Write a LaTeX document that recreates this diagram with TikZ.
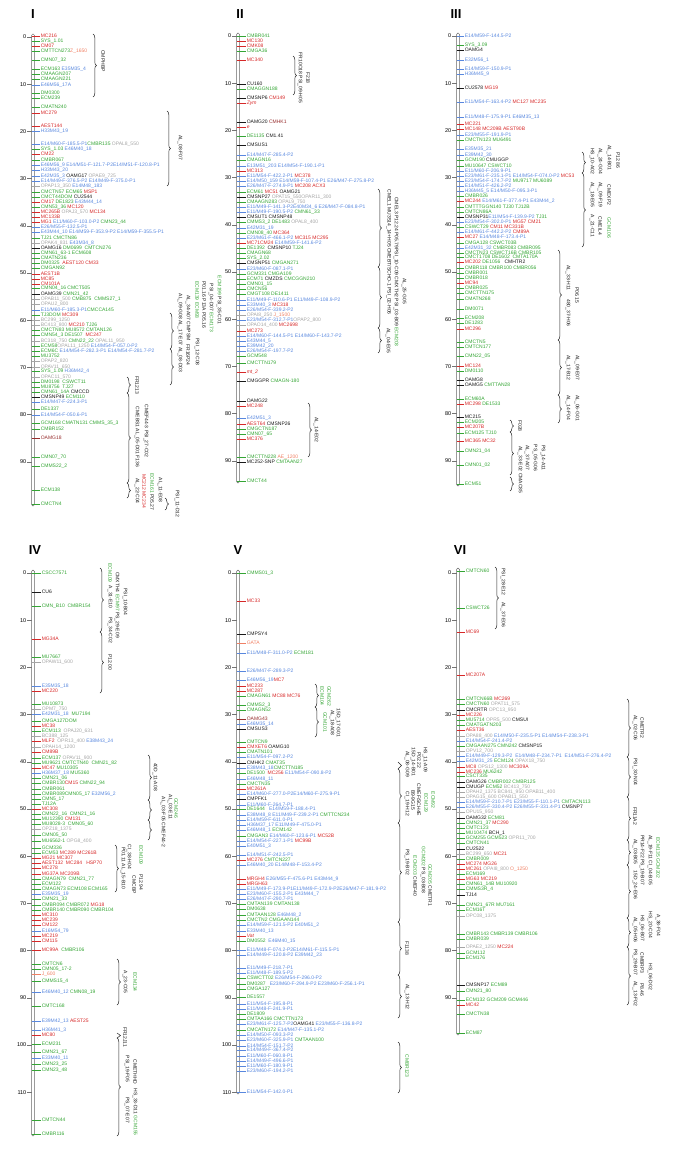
\documentclass[tikz,border=0pt]{standalone}
\usepackage{fontspec}
\setmainfont{Liberation Sans}
\usetikzlibrary{decorations.pathreplacing}
\definecolor{mR}{RGB}{214,40,40}
\definecolor{mG}{RGB}{52,165,52}
\definecolor{mB}{RGB}{88,135,222}
\definecolor{mK}{RGB}{25,25,25}
\definecolor{mY}{RGB}{165,165,165}
\definecolor{mO}{RGB}{240,128,100}
\definecolor{mM}{RGB}{150,45,45}
\newcommand\mR[1]{\textcolor{mR}{#1}}
\newcommand\mG[1]{\textcolor{mG}{#1}}
\newcommand\mB[1]{\textcolor{mB}{#1}}
\newcommand\mK[1]{\textcolor{mK}{#1}}
\newcommand\mY[1]{\textcolor{mY}{#1}}
\newcommand\mO[1]{\textcolor{mO}{#1}}
\newcommand\mM[1]{\textcolor{mM}{#1}}
\begin{document}
\catcode`\_=12
\begin{tikzpicture}[x=1pt, y=-1pt,
  mk/.style={anchor=west, inner sep=0.6pt, font=\fontsize{5}{6}\selectfont},
  num/.style={anchor=east, inner sep=0.5pt, font=\fontsize{5.5}{6}\selectfont},
  ttl/.style={inner sep=0pt, font=\fontsize{13}{13}\selectfont\bfseries},
  ql/.style={rotate=-90, inner sep=0pt, font=\fontsize{5}{6}\selectfont},
  mt/.style={line width=0.4pt},
  rt/.style={draw=black!55, line width=0.4pt},
  bar/.style={draw=black!60, line width=0.5pt, rounded corners=1.4pt},
  br/.style={decorate, decoration={brace, amplitude=3.5pt}, draw=black!85, line width=0.5pt}
]
\useasboundingbox (0,0) rectangle (685,1155);

% ---------------- I ----------------
\node[ttl] (I) at (33,14) {I};
\coordinate (Ib) at (31.5,0);
\draw[bar] (31.5,34) rectangle (34.5,506);
\foreach \v in {0,10,...,90} {
  \node[num] (I-n\v) at (27,37+4.72*\v) {\v};
  \draw[rt] (I-n\v.east) -- (I-n\v.east -| Ib);
}
\foreach \y/\c/\t in {
  36/mR/\mR{MC216}, 41/mG/\mG{SYS_1.01}, 46/mR/\mR{CM07},
  51/mG/\mG{CMTTCN273}\mO{Z_1650}, 60/mG/\mG{CMN07_32},
  69/mG/\mG{ECM163} \mB{E35M35_4}, 74/mG/\mG{CMAAGN207}, 79/mG/\mG{CMAAGN221},
  85/mB/\mB{E46M56_17A}, 93/mG/\mG{DM0300}, 98/mG/\mG{ECM239},
  107/mG/\mG{CMATN240}, 113/mR/\mR{MC279}, 126/mR/\mR{AEST144}, 131/mB/\mB{H33M43_19},
  144/mB/\mB{E14/M60-F-185.5-P1}\mG{CMBR135} \mY{OPAL8_550},
  149/mG/\mG{SYS_1.03} \mB{E46M40_18}, 154/mR/\mR{CM22}, 160/mG/\mG{CMBR067},
  165/mB/\mB{E46M56_9 E14/M51-F-121.7-P2E14/M51-F-120.8-P1},
  170/mB/\mB{H33M43_20}, 176/mB/\mB{E42M35_3} \mK{OAMG17} \mY{OPAE9_725},
  181/mB/\mB{E14/M49-F-376.5-P2 E14/M49-F-375.0-P1},
  186/mY/\mY{OPAP13_350} \mB{E14M48_183}, 192/mG/\mG{CMCTN57 ECM65} \mR{MSP1},
  197/mG/\mG{CMCT44DOM} \mK{CU2544}, 202/mR/\mR{CM17} \mG{DE1823} \mB{E43M44_14},
  207/mG/\mG{CMN53_36} \mR{MC120}, 212/mR/\mR{MC265B} \mY{OPAJ3_570} \mR{MC134},
  217/mR/\mR{MC133B}, 222/mR/\mR{MG1} \mB{E11/M60-F-103.0-P2} \mG{CMN23_44},
  227/mB/\mB{E26/M55-F-132.5-P1},
  232/mB/\mB{E43M44_10 E14/M59-F-353.9-P2 E14/M59-F-355.5-P1},
  238/mG/\mG{TJ21 CMCTN86}, 243/mY/\mY{OPAK4_831} \mB{E43M34_8},
  248/mK/\mK{OAMG16} \mG{DM0699\ \ CMTCN276}, 253/mG/\mG{CMN61_63-1 ECM608},
  258/mG/\mG{CMATN236}, 263/mG/\mG{DM0325}\ \ \mR{AEST120 CM33}, 268/mG/\mG{CMGAN92},
  274/mR/\mR{AEST1B}, 279/mR/\mR{MC85}, 284/mR/\mR{CM101A},
  288/mG/\mG{CMN04_16 CMCT505}, 294/mK/\mK{OAMG39} \mG{CMN21_42},
  299/mY/\mY{OPAB11_500} \mG{CMB875\ \ CMMS27_1}, 304/mY/\mY{OPAU2_800},
  310/mB/\mB{E11/M60-F-185.3-P1}\mG{CMCCA145}, 315/mG/\mG{TJ3DOM} \mR{MC309},
  320/mY/\mY{BC299_1250}, 325/mY/\mY{BC413_800} \mR{MC210} \mG{TJ26},
  330/mG/\mG{CMCTN83 MU8572 CMTAN126}, 335/mG/\mG{CMN54_3 DE1507}\ \ \mR{MC247},
  341/mY/\mY{BC318_750} \mG{CMN22_22} \mY{OPAL11_950},
  346/mG/\mG{ECM58}\mY{OPAL11_1250} \mB{E14/M54-F-057.0-P2},
  351/mG/\mG{ECM6C} \mB{E14/M54-F-282.3-P1 E14/M54-F-281.7-P2},
  356/mG/\mG{MU3752}, 361/mY/\mY{OPAP2_820}, 367/mY/\mY{OPAV11_650},
  371/mG/\mG{SYS_1.09} \mB{H36M42_4}, 377/mY/\mY{OPAC11_570},
  382/mG/\mG{DM0198\ \ CSWCT11}, 387/mG/\mG{MU8756\ \ TJ27},
  392/mG/\mG{CMN61_14A} \mK{CMCCD}, 397/mK/\mK{CMSNP49} \mG{ECM110},
  402/mB/\mB{E14/M47-F-224.3-P1}, 409/mG/\mG{DE1337}, 415/mB/\mB{E14/M54-F-050.6-P1},
  423/mG/\mG{GCM168 CMATN131 CMMS_35_3}, 429/mG/\mG{CMBR152}, 438/mM/\mM{OAMG18},
  457/mG/\mG{CMN07_70}, 466/mG/\mG{CMMS22_2}, 490/mG/\mG{ECM138}, 504/mG/\mG{CMCTN4}
}{
  \node[mk] (I-\y) at (40,\y) {\t};
  \draw[mt, draw=\c] (I-\y.west) -- (I-\y.west -| Ib);
}
\foreach \x/\a/\b in {93/34/97, 167/111/186, 170/313/349, 170/349/385,
  127/377/393, 127/393/483, 127/483/498, 165/498/510}
  \draw[br] (\x,\a) -- (\x,\b);
\foreach \x/\y/\t [count=\i] in {
  103/61/\mK{CMPHBP}, 180/148/\mK{AL_08-F07},
  180/333/\mK{AL_09-G08 AL_17-E07 AL_08-D03}, 188/318/\mK{AL_34-A07 CMPSM},
  188/355/\mK{FR16P24}, 197/300/\mG{ECM139 ECM93}, 197/352/\mK{PSI_12-C08},
  204/305/\mK{P01.16 P13A P05.16}, 211/308/\mK{PSI_04-D07} \mG{ECM173},
  219/300/\mG{ECM199} \mK{PSI_35-C01},
  137/385/\mK{FR1213}, 137/437/\mK{CMEBS1 AL_05-D01 F136},
  146/431/\mK{CMEF44-3 PSI_27-C02}, 137/491/\mK{AL_22-C04},
  144/491/\mR{MC212 MC234}, 152/492/\mG{ECM161} \mK{P05.27},
  160/490/\mK{AL_11-E08}, 177/504/\mK{PSI_11-D12}
}
  \node[ql] (I-q\i) at (\x,\y) {\t};

% ---------------- II ----------------
\node[ttl] (II) at (240,14) {II};
\coordinate (IIb) at (236.5,0);
\draw[bar] (236.5,33) rectangle (239.5,483);
\foreach \v in {0,10,...,90} {
  \node[num] (II-n\v) at (232,36+4.72*\v) {\v};
  \draw[rt] (II-n\v.east) -- (II-n\v.east -| IIb);
}
\foreach \y/\c/\t in {
  36/mG/\mG{CMBR041}, 41/mR/\mR{MC130}, 46/mR/\mR{CMK08}, 51/mG/\mG{CMGA36},
  60/mR/\mR{MC340}, 84/mK/\mK{CU160}, 89/mG/\mG{CMAGGN188},
  98/mK/\mK{CMSNP6} \mR{CM149}, 103/mR/\mR{\itshape Zym},
  122/mK/\mK{OAMG20} \mM{CMHK1}, 127/mR/\mR{\itshape e},
  136/mG/\mG{DE1135} \mK{CM1.41}, 145/mK/\mK{CMSUS1},
  155/mB/\mB{E14/M47-F-285.4-P2}, 160/mG/\mG{CMAGN16},
  166/mB/\mB{E13M51_203 E14/M54-F-190.1-P1}, 171/mR/\mR{MC313},
  176/mB/\mB{E11/M54-F-422.2-P1} \mR{MC378},
  181/mB/\mB{E14/M50_159 E14/M59-F-107.4-P1 E26/M47-F-275.8-P2},
  186/mB/\mB{E26/M47-F-274.9-P1} \mR{MC208 ACX3},
  192/mG/\mG{ECM61} \mR{MC51} \mK{OAMG21},
  197/mK/\mK{CMSNP27} \mY{OPAT15_550OPAR11_300},
  202/mG/\mG{CMAAGN283} \mY{OPAL9_750},
  207/mB/\mB{E11/M49-F-141.3-P2E40M34_6 E26/M47-F-084.8-P1},
  212/mB/\mB{E11/M49-F-190.5-P2} \mG{CMN61_33}, 217/mK/\mK{CMSUT1 CMSNP48},
  222/mG/\mG{CMMS3_2 DE1483} \mY{OPAL8_400}, 228/mB/\mB{E42M31_19},
  233/mG/\mG{CMN08_40} \mR{MC364},
  238/mB/\mB{E23/M61-F-466.1-P2} \mR{MC315 MC295},
  243/mR/\mR{MC71CM24} \mB{E14/M59-F-141.6-P2},
  248/mG/\mG{DE1392}\ \ \mK{CMSNP10} \mG{TJ24}, 253/mG/\mG{CMAGN68},
  258/mG/\mG{SYS_2.02}, 263/mK/\mK{CMSNP51} \mG{CMGAN271},
  269/mB/\mB{E23/M60-F-087.1-P1}, 274/mG/\mG{GCM331 CMGA109},
  279/mG/\mG{ECM71} \mK{CMZDS} \mG{CMCGGN210}, 284/mG/\mG{CMN01_15},
  289/mG/\mG{CMCN56}, 294/mG/\mG{CMGT108 DE1411},
  300/mB/\mB{E11/M49-F-110.6-P1 E11/M49-F-108.9-P2},
  305/mB/\mB{E33M40_3} \mR{MC318}, 310/mB/\mB{E26/M54-F-339.2-P2},
  315/mY/\mY{OPAI8_250} \mO{J_1500},
  320/mB/\mB{E23/M54-F-312.7-P1}\mY{OPAP2_800},
  325/mY/\mY{OPAO14_400} \mR{MC2698}, 331/mR/\mR{MC273},
  336/mB/\mB{E14/M60-F-144.5-P1 E14/M60-F-143.7-P2},
  341/mB/\mB{E43M44_5}, 346/mB/\mB{E39M42_20}, 351/mB/\mB{E26/M54-F-197.7-P2},
  356/mG/\mG{GCM548}, 363/mG/\mG{CMCTTN179}, 372/mR/\mR{\itshape mt_2},
  381/mK/\mK{CMGGPR} \mG{CMAGN-180}, 401/mK/\mK{OAMG22}, 406/mR/\mR{MC248},
  418/mB/\mB{E42M51_3}, 424/mR/\mR{AEST64} \mK{CMSNP26},
  429/mG/\mG{CMGCTN187}, 434/mG/\mG{CMN07_65}, 439/mR/\mR{MC376},
  457/mG/\mG{CMCTTN228} \mO{AE_1200}, 462/mK/\mK{MC252-SNP} \mG{CMTAAN27},
  481/mG/\mG{CMCT44}
}{
  \node[mk] (II-\y) at (246,\y) {\t};
  \draw[mt, draw=\c] (II-\y.west) -- (II-\y.west -| IIb);
}
\foreach \x/\a/\b in {293/56/95, 378/189/267, 378/267/328, 378/328/353, 308/403/457}
  \draw[br] (\x,\a) -- (\x,\b);
\foreach \x/\y/\t [count=\i] in {
  300/78/\mK{FR10O18 PSI_09-H05}, 308/78/\mK{F218},
  389/252/\mK{CMEL1 MU3514_14+H05 CMEBT/SCHO-1 PSI_02-H06},
  396/272/\mK{CMEL3 P12.24 P05.79PSI_10-C09 CMXTH2 PSI_03-B09} \mG{ECM203},
  404/291/\mK{AL_25-G05}, 388/341/\mK{AL_04-E05}, 316/430/\mK{AL_14-E02}
}
  \node[ql] (II-q\i) at (\x,\y) {\t};

% ---------------- III ----------------
\node[ttl] (III) at (456,14) {III};
\coordinate (IIIb) at (456.5,0);
\draw[bar] (456.5,33) rectangle (459.5,486);
\foreach \v in {0,10,...,90} {
  \node[num] (III-n\v) at (452,36+4.72*\v) {\v};
  \draw[rt] (III-n\v.east) -- (III-n\v.east -| IIIb);
}
\foreach \y/\c/\t in {
  36/mB/\mB{E14/M59-F-144.5-P2}, 45/mG/\mG{SYS_3.09}, 50/mK/\mK{OAMG4},
  60/mB/\mB{E32M56_1}, 69/mB/\mB{E14/M59-F-150.9-P1}, 74/mB/\mB{H36M45_9},
  88/mK/\mK{CU2578} \mR{MG19}, 102/mB/\mB{E11/M54-F-163.4-P2} \mR{MC127 MC235},
  117/mB/\mB{E11/M48-F-175.9-P1 E46M35_13}, 124/mR/\mR{MC221},
  129/mR/\mR{MC148 MC209B AEST90B}, 135/mB/\mB{E23/M55-F-191.9-P1},
  140/mG/\mG{CMCTN123 MU6491}, 149/mB/\mB{E35M35_21}, 155/mB/\mB{E39M42_30},
  160/mG/\mG{GCM190} \mK{CMUGGP}, 166/mG/\mG{MU10647 CSWCT10},
  171/mB/\mB{E11/M60-F-206.9-P1},
  176/mB/\mB{E23/M61-F-235.1-P1 E14/M54-F-074.0-P2} \mR{MC53},
  181/mB/\mB{E23/M54-F-174.7-P2} \mG{MU9717 MU6089},
  186/mB/\mB{E14/M51-F-426.2-P2}, 191/mB/\mB{H36M45_5 E14/M50-F-095.3-P1},
  196/mG/\mG{CMBR026}, 201/mR/\mR{MC244} \mB{E14/M61-F-377.4-P1 E43M44_2},
  207/mG/\mG{CMTTTGGN140 TJ30 TJ12B}, 212/mG/\mG{CMTCN86A},
  217/mK/\mK{CMSNP31}\mB{E11/M54-F-139.9-P2} \mG{TJ31},
  222/mB/\mB{E23/M54-F-302.0-P1} \mR{MG57 CM21},
  227/mG/\mG{CSWCT29} \mR{CM11 MC331B}, 232/mB/\mB{E14/M61-F-442.2-P2} \mR{CM89A},
  237/mR/\mR{MC27} \mB{E14/M48-F-173.4-P1}, 243/mG/\mG{CMGA128 CSWCT03B},
  248/mB/\mB{E42M31_32} \mG{CMBR083 CMBR095},
  253/mG/\mG{CMCTN23 CSWCT16B CMBR105},
  257/mG/\mG{CMCT1708 DE1602\ \ CMTA170A},
  262/mR/\mR{MC202} \mG{DE1056}\ \ \ \mK{CMHTR2},
  268/mG/\mG{CMBR118 CMBR100 CMBR056}, 273/mG/\mG{CMBR001},
  278/mG/\mG{CMBR018}, 283/mR/\mR{MC94}, 288/mG/\mG{CMBR025},
  293/mG/\mG{CMCTTN175}, 299/mG/\mG{CMATN268}, 309/mG/\mG{DM0071},
  318/mG/\mG{ECM208}, 323/mG/\mG{DE1283}, 329/mR/\mR{MC296},
  342/mG/\mG{CMCTN5}, 347/mG/\mG{CMTCN177}, 356/mG/\mG{CMN22_05},
  366/mR/\mR{MC124}, 371/mG/\mG{DM0110}, 380/mK/\mK{OAMG8},
  385/mK/\mK{OAMG5} \mG{CMTTAN28}, 399/mG/\mG{ECM60A},
  404/mR/\mR{MC298} \mG{DE1533}, 417/mK/\mK{MC215}, 422/mG/\mG{ECM205},
  427/mR/\mR{MC207B}, 433/mG/\mG{ECM125 TJ10}, 441/mR/\mR{MC365 MC32},
  451/mG/\mG{CMN21_04}, 465/mG/\mG{CMN01_02}, 484/mG/\mG{ECM51}
}{
  \node[mk] (III-\y) at (464,\y) {\t};
  \draw[mt, draw=\c] (III-\y.west) -- (III-\y.west -| IIIb);
}
\foreach \x/\a/\b in {582/152/173, 582/173/247, 558/250/340, 558/340/395,
  558/395/423, 510/420/432, 510/432/475, 510/477/491}
  \draw[br] (\x,\a) -- (\x,\b);
\foreach \x/\y/\t [count=\i] in {
  592/161/\mK{HS_10-A02}, 592/195/\mK{AL_18-E05}, 592/226/\mK{A_21-C11},
  600/161/\mK{AL_24-G04}, 600/195/\mK{AL_09-F19}, 600/226/\mK{CMEIL4},
  609/158/\mK{AL_14-B01}, 609/195/\mK{CMEXP2}, 609/228/\mG{GCM106},
  618/160/\mK{P12.86},
  568/278/\mK{AL_33-H11}, 568/313/\mK{480_37-H06}, 577/295/\mK{P06.15},
  568/368/\mK{AL_17-B12}, 577/368/\mK{AL_09-E07},
  568/408/\mK{AL_14-F04}, 577/408/\mK{AL_06-G01},
  520/426/\mK{F028}, 520/470/\mK{AL_33-E02 CMAC85},
  527/458/\mK{AL_37-A07}, 535/458/\mK{PS_05-G06}, 543/458/\mK{PS_14-A11}
}
  \node[ql] (III-q\i) at (\x,\y) {\t};

% ---------------- IV ----------------
\node[ttl] (IV) at (35,550) {IV};
\coordinate (IVb) at (31.5,0);
\draw[bar] (31.5,570) rectangle (34.5,1136);
\foreach \v in {0,10,...,110} {
  \node[num] (IV-n\v) at (27,573+4.72*\v) {\v};
  \draw[rt] (IV-n\v.east) -- (IV-n\v.east -| IVb);
}
\foreach \y/\c/\t in {
  573/mG/\mG{CSCC7571}, 592/mK/\mK{CU6}, 606/mG/\mG{CMN_B10\ \ CMBR154},
  639/mR/\mR{MG34A}, 657/mG/\mG{MU7667}, 662/mY/\mY{OPAW11_600},
  686/mB/\mB{E35M35_18}, 691/mR/\mR{MC220}, 704/mG/\mG{MU10873},
  709/mY/\mY{OPM7_750}, 714/mB/\mB{E42M31_18}\ \ \mG{MU7194},
  721/mG/\mG{CMGA127DOM}, 726/mR/\mR{MC38}, 731/mG/\mG{ECM113}\ \ \mY{OPAJ20_631},
  736/mY/\mY{BC388_125}, 741/mR/\mR{MLF2}\ \ \mY{OPR13_400} \mB{E38M43_24},
  747/mY/\mY{OPAH14_1200}, 752/mR/\mR{CM89B}, 758/mG/\mG{ECM137} \mY{OPAV11_900},
  763/mG/\mG{MU9621 CMTCTN40\ \ CMN21_82}, 768/mR/\mR{MC47} \mG{MU10305},
  773/mB/\mB{H36M37_18} \mG{MU5360}, 778/mG/\mG{CMN21_06},
  783/mG/\mG{CMBR130}\mR{CM15} \mG{CMN22_94}, 789/mG/\mG{CMBR061},
  794/mG/\mG{CMBR089CMN05_17} \mB{E32M56_2}, 799/mG/\mG{CMN5_17},
  804/mG/\mG{TJ12A}, 809/mR/\mR{MC308}, 814/mG/\mG{CMN22_16\ \ CMN21_16},
  819/mG/\mG{MU12390} \mR{CM131}, 824/mG/\mG{MU8028-3\ \ CMN05_60},
  829/mY/\mY{OPZ18_1375}, 835/mG/\mG{CMN05_50}, 841/mG/\mG{MU6562-1} \mY{OPG8_400},
  848/mG/\mG{GCM336}, 853/mG/\mG{ECM53} \mR{MC289 MC261B},
  858/mR/\mR{MG21 MC307}, 863/mR/\mR{AEST132\ \ MC284\ \ \ HSP70},
  868/mR/\mR{MC278}, 874/mR/\mR{MG37A MC209B}, 879/mG/\mG{CMAGN79\ \ CMN21_77},
  884/mG/\mG{ECM122}, 889/mG/\mG{CMAGN73 ECM108 ECM165}, 894/mB/\mB{E35M35_19},
  899/mG/\mG{CMN21_33}, 905/mG/\mG{CMBR094 CMBR072} \mR{MG18},
  910/mG/\mG{CMBR140 CMBR090 CMBR104}, 915/mR/\mR{MC310}, 920/mR/\mR{MC239},
  925/mR/\mR{CM122}, 931/mB/\mB{E16M54_79}, 936/mR/\mR{MC219}, 941/mR/\mR{CM115},
  950/mR/\mR{MC99A}\ \ \mG{CMBR106}, 964/mG/\mG{CMTCN6}, 969/mG/\mG{CMN05_17-2},
  974/mO/\mO{J_600}, 981/mG/\mG{CMMS15_4}, 992/mB/\mB{E46M40_12} \mG{CMN08_19},
  1006/mG/\mG{CMTC168}, 1021/mB/\mB{E39M42_13} \mR{AEST25}, 1030/mB/\mB{H36M41_3},
  1035/mR/\mR{MC80}, 1044/mG/\mG{ECM231}, 1052/mG/\mG{CMN21_67},
  1058/mB/\mB{E33M40_11}, 1064/mG/\mG{CMN23_25}, 1070/mG/\mG{CMN23_48},
  1120/mG/\mG{CMTCN44}, 1134/mG/\mG{CMBR116}
}{
  \node[mk] (IV-\y) at (41,\y) {\t};
  \draw[mt, draw=\c] (IV-\y.west) -- (IV-\y.west -| IVb);
}
\foreach \x/\a/\b in {100/568/632, 100/632/693, 148/755/800, 148/800/820,
  148/820/840, 115/845/892, 117/959/1005, 117/1033/1038, 117/1038/1136}
  \draw[br] (\x,\a) -- (\x,\b);
\foreach \x/\y/\t [count=\i] in {
  110/573/\mG{ECM109}, 110/597/\mK{A_31-E10}, 110/630/\mK{PS_34-C02},
  110/662/\mK{P12.00}, 117/605/\mK{CMXTH4} \mG{ECM97} \mK{PS_29-E09},
  125/602/\mK{PSI_10-B04}, 155/777/\mK{40D_11-A08},
  163/822/\mK{AL_03-F05 CMEF44-2}, 170/807/\mK{AL_03-E11}, 176/808/\mG{GCM246},
  123/868/\mK{P01.11 AL_15-B10}, 129/857/\mK{CI_38-H04}, 134/885/\mK{CMCBP},
  141/855/\mG{ECM109}, 141/882/\mK{P12.94},
  125/982/\mK{A_23-C05}, 135/982/\mG{ECM134},
  125/1037/\mK{FR12J11}, 127/1069/\mK{PSI_19-F05}, 127/1110/\mK{PS_07-E07},
  135/1072/\mK{CMETHHD}, 135/1112/\mK{HS_33-D11} \mG{GCM155}
}
  \node[ql] (IV-q\i) at (\x,\y) {\t};

% ---------------- V ----------------
\node[ttl] (V) at (238,550) {V};
\coordinate (Vb) at (236.5,0);
\draw[bar] (236.5,570) rectangle (239.5,1094);
\foreach \v in {0,10,...,110} {
  \node[num] (V-n\v) at (232,573+4.72*\v) {\v};
  \draw[rt] (V-n\v.east) -- (V-n\v.east -| Vb);
}
\foreach \y/\c/\t in {
  573/mG/\mG{CMMS01_3}, 601/mR/\mR{MC33}, 634/mK/\mK{CMPSY4}, 643/mO/\mO{GATA},
  653/mB/\mB{E11/M48-F-311.0-P2} \mG{ECM181}, 671/mB/\mB{E26/M47-F-289.3-P2},
  680/mB/\mB{E46M56_19}\mR{MC7}, 686/mR/\mR{MC233}, 691/mR/\mR{MC287},
  696/mG/\mG{CMAGN61} \mR{MC88 MC76}, 705/mG/\mG{CMMS2_3}, 710/mG/\mG{CMAGN52},
  719/mM/\mM{OAMG43}, 724/mB/\mB{E46M35_14}, 729/mK/\mK{CMSUS3},
  742/mG/\mG{CMTCN9}, 747/mR/\mR{CMXET6} \mK{OAMG10}, 752/mG/\mG{CMATN101},
  757/mB/\mB{E11/M54-F-097.2-P2}, 763/mK/\mK{CMHK2} \mG{CMAT35},
  768/mB/\mB{E38M43_18}\mG{CMCTTN185},
  773/mG/\mG{DE1500}\ \ \mR{MC256} \mB{E11/M54-F-090.8-P2},
  779/mB/\mB{E46M48_11}, 784/mG/\mG{CMCTN35}, 789/mR/\mR{MC261A},
  794/mB/\mB{E14/M60-F-277.0-P2E14/M60-F-275.9-P1}, 799/mK/\mK{CMPFK1},
  805/mB/\mB{E11/M60-F-264.7-P1}, 809/mG/\mG{DE1644}\ \ \ \mB{E14/M59-F-188.4-P1},
  815/mB/\mB{E38M48_8 E11/M49-F-239.2-P1} \mG{CMTTCN234},
  820/mB/\mB{E14/M59-F-611.0-P1}, 825/mB/\mB{H36M37_17 E11/M49-F-475.0-P1},
  830/mB/\mB{E46M48_1} \mG{ECM142},
  836/mG/\mG{CMGAN3} \mB{E14/M60-F-123.6-P1} \mR{MC52B},
  841/mB/\mB{E14/M54-F-227.1-P1} \mR{MC99B}, 846/mB/\mB{E40M51_3},
  855/mB/\mB{E14/M51-F-242.5-P1}, 860/mR/\mR{MC276} \mG{CMTCN227},
  865/mB/\mB{E46M40_20 E14/M48-F-153.4-P2},
  879/mR/\mR{MRGH4} \mB{E26/M55-F-475.6-P1 E43M44_9}, 884/mR/\mR{MRGH63},
  889/mB/\mB{E11/M49-F-173.9-P1E11/M49-F-172.9-P2E26/M47-F-181.9-P2},
  894/mB/\mB{E23/M60-F-155.2-P1 E43M44_7}, 899/mB/\mB{E26/M47-F-290.7-P1},
  904/mG/\mG{CMTAN139 CMTAN138}, 909/mG/\mG{DM0638},
  915/mG/\mG{CMTAAN128} \mB{E46M48_2}, 920/mG/\mG{CMCTN2 CMGAAN144},
  925/mB/\mB{E14/M59-F-121.5-P2 E40M51_2}, 931/mB/\mB{E33M40_13},
  936/mR/\mR{\itshape Vat}, 941/mG/\mG{DM0552}\ \ \mB{E46M40_15},
  950/mB/\mB{E11/M48-F-074.2-P2E14/M61-F-115.5-P1},
  955/mB/\mB{E14/M49-F-120.8-P2 E39M42_23}, 968/mB/\mB{E11/M49-F-218.7-P1},
  973/mB/\mB{E11/M48-F-189.5-P2}, 978/mG/\mG{CSWCTT02} \mB{E26/M54-F-296.0-P2},
  984/mG/\mG{DM0287}\ \ \ \mB{E23/M60-F-294.9-P2 E23/M60-F-256.1-P1},
  989/mG/\mG{CMGA127}, 997/mG/\mG{DE1557}, 1004/mB/\mB{E11/M54-F-195.8-P1},
  1009/mB/\mB{E11/M48-F-241.9-P1}, 1014/mG/\mG{DE1809},
  1019/mG/\mG{CMTAA166 CMCTTN173},
  1024/mB/\mB{E23/M61-F-125.7-P2}\mK{OAMG41} \mB{E23/M55-F-136.8-P2},
  1030/mG/\mG{CMCATN172} \mB{E14/M47-F-135.1-P2}, 1035/mB/\mB{E14/M50-F-093.3-P2},
  1040/mB/\mB{E23/M60-F-325.9-P1} \mG{CMTAAN100}, 1046/mB/\mB{E14/M54-F-151.7-P2},
  1050/mB/\mB{E14/M49-F-367.4-P2}, 1056/mB/\mB{E11/M60-F-060.8-P1},
  1061/mB/\mB{E14/M49-F-496.6-P1}, 1066/mB/\mB{E11/M60-F-180.9-P1},
  1071/mB/\mB{E23/M60-F-194.2-P1}, 1092/mB/\mB{E11/M54-F-142.0-P1}
}{
  \node[mk] (V-\y) at (246,\y) {\t};
  \draw[mt, draw=\c] (V-\y.west) -- (V-\y.west -| Vb);
}
\foreach \x/\a/\b in {315/684/707, 315/707/737, 398/762/769, 398/769/823,
  398/823/922, 398/922/975, 398/975/1018, 398/1042/1093}
  \draw[br] (\x,\a) -- (\x,\b);
\foreach \x/\y/\t [count=\i] in {
  322/696/\mG{ECM104}, 329/696/\mG{GCM262}, 325/722/\mG{GCM101},
  332/723/\mK{AL_18-A08}, 338/723/\mK{15D_17-G01},
  407/764/\mK{AL_08-G09}, 413/762/\mK{15D_14-B01}, 419/760/\mK{P02.22},
  425/760/\mK{HS_11-A09},
  407/804/\mK{CI_19-H12}, 413/800/\mK{B9-9G15}, 419/800/\mK{CMEF/SCH4E},
  426/803/\mG{ECM129}, 433/800/\mG{ECM92},
  407/862/\mK{PS_19-B02}, 415/876/\mG{ECM203} \mK{CMEF40},
  423/870/\mG{GCM202} \mK{PS_03-B08}, 430/885/\mG{GCM205} \mK{CMETR1},
  407/948/\mK{F1138}, 407/997/\mK{AL_13-H12}, 407/1066/\mG{CMBR123}
}
  \node[ql] (V-q\i) at (\x,\y) {\t};

% ---------------- VI ----------------
\node[ttl] (VI) at (460,550) {VI};
\coordinate (VIb) at (456.5,0);
\draw[bar] (456.5,568) rectangle (459.5,1035);
\foreach \v in {0,10,...,90} {
  \node[num] (VI-n\v) at (452,573+4.72*\v) {\v};
  \draw[rt] (VI-n\v.east) -- (VI-n\v.east -| VIb);
}
\foreach \y/\c/\t in {
  571/mG/\mG{CMTCN60}, 608/mG/\mG{CSWCT26}, 632/mR/\mR{MC69}, 675/mR/\mR{MC207A},
  699/mG/\mG{CMTCN66B} \mR{MC269}, 704/mG/\mG{CMCTN60} \mY{OPAT11_575},
  710/mK/\mK{CMCRTR} \mY{OPC13_950}, 715/mR/\mR{MC226},
  720/mG/\mG{MU5714} \mY{OPR5_500} \mK{CMSUI}, 725/mG/\mG{CMATGATN203},
  730/mR/\mR{AEST36},
  736/mY/\mY{OPA88_400} \mB{E14/M50-F-235.5-P1 E14/M54-F-238.3-P1},
  741/mB/\mB{E14/M54-F-241.4-P2}, 746/mG/\mG{CMGAAN275 CMN242} \mK{CMSNP15},
  751/mY/\mY{OPV12_700},
  756/mB/\mB{E14/M49-F-129.3-P2\ \ E14/M48-F-234.7-P1\ \ E14/M51-F-276.4-P2},
  761/mB/\mB{E42M31_25} \mG{ECM124} \mY{OPAX18_750},
  767/mR/\mR{MC8} \mY{OPS12_1300} \mR{MC309A}, 772/mR/\mR{MC236} \mG{MU6242},
  776/mG/\mG{CSCT335}, 782/mK/\mK{OAMG26} \mG{CMBR002 CMBR125},
  787/mK/\mK{CMUGP} \mG{ECM52} \mY{BC413_750},
  792/mY/\mY{OPAH2_1375 BC841_950 OPAB11_400}, 797/mY/\mY{OPAG15_600 OPAB11_550},
  802/mB/\mB{E14/M59-F-210.7-P1 E23/M55-F-110.1-P1} \mG{CMTACN113},
  807/mB/\mB{E26/M55-F-330.4-P2 E26/M55-F-331.4-P1} \mK{CMSNP7},
  812/mY/\mY{OPU15_950}, 818/mK/\mK{OAMG32} \mG{ECM81},
  823/mG/\mG{CMN21_37} \mR{MC290}, 828/mG/\mG{CMTC123},
  833/mG/\mG{MU10474} \mK{BCH_1}, 838/mG/\mG{GCM255 GCM523} \mY{OPR11_700},
  843/mG/\mG{CMTCN41}, 849/mK/\mK{CU2522}, 854/mY/\mY{BC299_650} \mR{MC21},
  859/mG/\mG{CMBR009}, 864/mR/\mR{MC274 MG26},
  869/mR/\mR{MC261} \mY{OPAI8_800} \mO{O_1250}, 874/mG/\mG{ECM169},
  879/mR/\mR{MG63 MC219}, 884/mG/\mG{CMN61_14B MU10920}, 889/mG/\mG{CMMS3R_4},
  895/mK/\mK{TJ14}, 905/mG/\mG{CMN21_67R MU7161}, 910/mG/\mG{ECM16T},
  916/mY/\mY{OPC08_1375}, 934/mG/\mG{CMBR143 CMBR139 CMBR106},
  939/mG/\mG{CMBR039}, 947/mY/\mY{OPAE2_1250} \mR{MC224}, 953/mG/\mG{GCM112},
  958/mG/\mG{ECM176}, 985/mK/\mK{CMSNP17} \mG{ECM89}, 991/mG/\mG{CMN21_80},
  1000/mG/\mG{ECM132 GCM209 GCM446}, 1005/mR/\mR{MC42}, 1014/mG/\mG{CMCTN38},
  1033/mG/\mG{ECM87}
}{
  \node[mk] (VI-\y) at (465,\y) {\t};
  \draw[mt, draw=\c] (VI-\y.west) -- (VI-\y.west -| VIb);
}
\foreach \x/\a/\b in {495/567/629, 627/699/757, 627/757/797, 627/797/840,
  627/840/865, 627/865/918, 627/918/947, 627/947/1005}
  \draw[br] (\x,\a) -- (\x,\b);
\foreach \x/\y/\t [count=\i] in {
  503/582/\mK{PSI_28-E12}, 503/615/\mK{AL_37-E06},
  635/728/\mK{AL_02-C06}, 642/728/\mK{CMETR2}, 635/772/\mK{PSI_30-N04},
  635/816/\mK{FR11A2}, 635/852/\mK{AL_03-B05}, 635/885/\mK{15D_24-E06},
  642/860/\mK{PR14-F22 PS_19-B07}, 650/860/\mK{AL_19-F11 CI_04-B05},
  658/858/\mG{ECM135 GCM202},
  635/930/\mK{AL_05-H06}, 642/928/\mK{HS_06-B07}, 650/925/\mK{HS_20-C04},
  658/925/\mK{A_38-F04},
  635/962/\mK{PS_29-B07}, 635/994/\mK{AL_13-F02}, 642/963/\mK{CMBRP3},
  642/990/\mK{P8.46}, 650/977/\mK{HS_06-D02}
}
  \node[ql] (VI-q\i) at (\x,\y) {\t};
\end{tikzpicture}
\end{document}
